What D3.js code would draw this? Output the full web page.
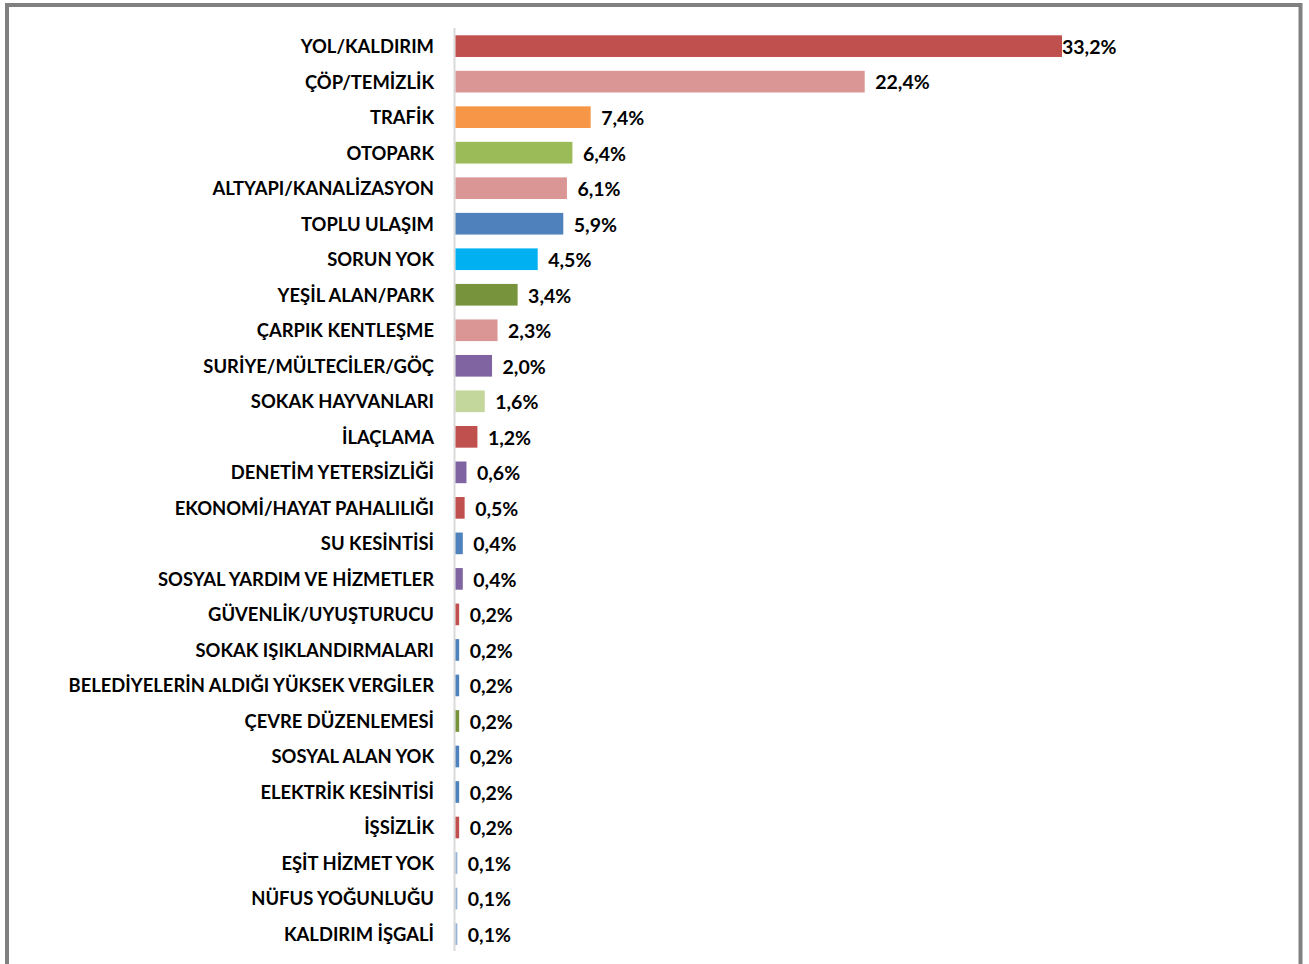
<!DOCTYPE html>
<html><head><meta charset="utf-8">
<script src="https://cdn.jsdelivr.net/npm/d3@7"></script>
<style>body{margin:0;background:#fff}svg{display:block}</style>
</head><body>
<svg id="chart" width="1309" height="964"></svg>
<script>
const categories = ["YOL/KALDIRIM","ÇÖP/TEMİZLİK","TRAFİK","OTOPARK","ALTYAPI/KANALİZASYON","TOPLU ULAŞIM","SORUN YOK","YEŞİL ALAN/PARK","ÇARPIK KENTLEŞME","SURİYE/MÜLTECİLER/GÖÇ","SOKAK HAYVANLARI","İLAÇLAMA","DENETİM YETERSİZLİĞİ","EKONOMİ/HAYAT PAHALILIĞI","SU KESİNTİSİ","SOSYAL YARDIM VE HİZMETLER","GÜVENLİK/UYUŞTURUCU","SOKAK IŞIKLANDIRMALARI","BELEDİYELERİN ALDIĞI YÜKSEK VERGİLER","ÇEVRE DÜZENLEMESİ","SOSYAL ALAN YOK","ELEKTRİK KESİNTİSİ","İŞSİZLİK","EŞİT HİZMET YOK","NÜFUS YOĞUNLUĞU","KALDIRIM İŞGALİ"];
const values = [33.2,22.4,7.4,6.4,6.1,5.9,4.5,3.4,2.3,2.0,1.6,1.2,0.6,0.5,0.4,0.4,0.2,0.2,0.2,0.2,0.2,0.2,0.2,0.1,0.1,0.1];
const colors = ["#C0504D","#D99694","#F79646","#9BBB59","#D99694","#4F81BD","#00B0F0","#77933C","#D99694","#8064A2","#C3D69B","#C0504D","#8064A2","#C0504D","#4F81BD","#8064A2","#C0504D","#4F81BD","#4F81BD","#77933C","#4F81BD","#4F81BD","#C0504D","#95B3D7","#95B3D7","#95B3D7"];

const svg = d3.select("#chart");
// frame
svg.append("rect").attr("x",7).attr("y",5).attr("width",1293.5).attr("height",1000)
  .attr("fill","none").attr("stroke","#808080").attr("stroke-width",4);

const x0 = 455.5;
const x = d3.scaleLinear().domain([0,33.2]).range([x0,1062]);
const y = d3.scaleBand().domain(categories).range([28.2,952]).paddingInner(0.39).paddingOuter(0.2);

svg.append("line").attr("x1",454.5).attr("x2",454.5).attr("y1",28).attr("y2",951)
  .attr("stroke","#D9D9D9").attr("stroke-width",2);

svg.append("g").selectAll("rect").data(values).join("rect")
  .attr("x",x0).attr("y",(d,i)=>y(categories[i]))
  .attr("width",d=>x(d)-x0).attr("height",y.bandwidth())
  .attr("fill",(d,i)=>colors[i]);

const font = "Lato, 'Open Sans', sans-serif";
svg.append("g").selectAll("text").data(categories).join("text")
  .attr("x",434).attr("y",d=>y(d)+y.bandwidth()/2+0.5).attr("dy","0.35em")
  .attr("text-anchor","end").attr("font-family",font).attr("font-weight","bold")
  .attr("font-size",18.4).attr("fill","#000").text(d=>d);

const fmt = v => v.toFixed(1).replace(".",",")+"%";
svg.append("g").selectAll("text").data(values).join("text")
  .attr("x",d=>Math.min(x(d)+10.5, x.range()[1]))
  .attr("y",(d,i)=>y(categories[i])+y.bandwidth()/2+1).attr("dy","0.35em")
  .attr("font-family",font).attr("font-weight","bold")
  .attr("font-size",19.5).attr("fill","#000").text(fmt);
</script>
</body></html>
